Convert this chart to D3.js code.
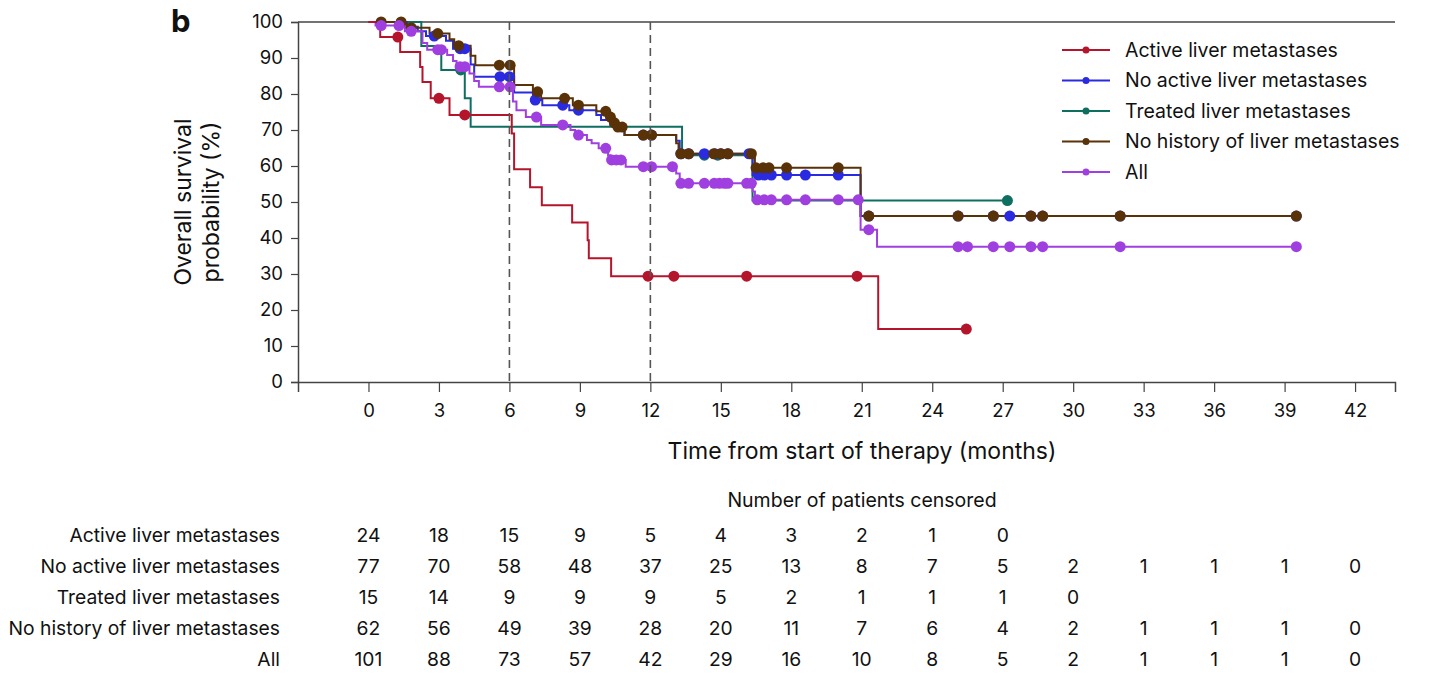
<!DOCTYPE html>
<html><head><meta charset="utf-8">
<script src="https://cdn.jsdelivr.net/npm/d3@7"></script>
<style>
html,body{margin:0;padding:0;background:#fff;}
text{font-family:Inter,"Noto Sans",sans-serif;fill:#111;}
</style></head>
<body><svg id="c" width="1431" height="678"></svg>
<script>
// ---------- data ----------
const seriesNames = ["Active liver metastases","No active liver metastases","Treated liver metastases","No history of liver metastases","All"];
const seriesColors = ["#b5152b","#2a2ae0","#0e6e5f","#5a3208","#a03fe0"];
// steps: [time (months), survival (%) after the event]
const activeSteps = [[0.5,95.8],[1.35,91.7],[2.2,87.5],[2.3,83.3],[2.65,78.8],[3.45,74.2],[6.1,69.0],[6.2,59.1],[6.88,54.1],[7.38,49.1],[8.67,44.3],[9.33,39.4],[9.38,34.4],[10.33,29.4],[21.7,14.7]];
const activeCensor = [1.25,3.0,4.1,11.9,13.0,16.1,20.8,25.45];
const activeEnd = 25.45;

const noActiveSteps = [[1.65,98.7],[2.1,97.4],[2.45,96.1],[3.3,94.8],[3.6,92.6],[4.35,88.2],[4.5,84.8],[6.2,80.4],[7.0,78.3],[7.4,76.9],[8.55,75.5],[9.7,74.2],[9.9,72.8],[10.3,71.4],[10.6,70.0],[10.9,68.6],[13.1,67.0],[13.25,63.4],[16.35,57.5],[20.95,46.1]];
const noActiveCensor = [2.8,3.9,4.1,5.6,6.0,7.1,8.27,8.94,11.7,12.05,13.3,13.63,14.3,14.75,15.0,15.3,16.2,16.6,16.85,17.15,17.8,18.6,20.0,21.3,25.1,26.6,27.3,28.2,28.7,32.0,39.5];
const noActiveEnd = 39.5;

const treatedSteps = [[2.25,93.3],[3.1,86.7],[4.1,78.8],[4.35,70.9],[13.35,63.0],[16.35,50.4]];
const treatedCensor = [3.93,14.3,14.87,27.2];
const treatedEnd = 27.2;

const noHistorySteps = [[1.6,98.4],[2.6,96.8],[3.45,95.2],[3.65,93.4],[4.35,90.6],[4.55,88.0],[6.2,82.5],[7.0,80.6],[7.35,78.8],[8.7,76.9],[9.7,75.2],[10.25,73.6],[10.4,72.0],[10.55,70.8],[10.9,68.6],[13.1,66.3],[13.2,63.4],[16.45,59.5],[20.95,46.1]];
const noHistoryCensor = [0.54,1.39,1.82,2.95,3.84,5.57,6.03,7.2,8.35,8.94,10.1,10.3,10.47,10.62,10.8,11.7,12.05,13.3,13.63,14.7,15.0,15.3,16.3,16.5,16.8,17.05,17.8,20.0,21.3,25.1,26.6,28.2,28.7,32.0,39.5];
const noHistoryEnd = 39.5;

const allSteps = [[0.3,99.0],[1.55,97.4],[2.3,94.2],[2.5,92.3],[3.35,90.8],[3.6,89.2],[3.75,87.6],[4.3,85.7],[4.5,83.6],[4.7,82.0],[6.15,77.9],[6.3,75.5],[6.7,73.6],[7.35,71.4],[8.6,70.0],[8.8,68.6],[9.3,67.2],[9.5,66.3],[9.8,64.9],[10.2,63.0],[10.3,61.7],[10.95,59.8],[13.1,57.9],[13.25,55.2],[16.35,52.9],[16.45,50.6],[20.95,42.3],[21.65,37.6]];
const allCensor = [0.54,1.3,1.82,2.95,3.1,3.9,4.1,5.57,6.03,7.15,8.27,8.94,10.1,10.35,10.55,10.75,11.7,12.05,12.94,13.3,13.63,14.3,14.72,14.94,15.15,15.3,16.1,16.3,16.55,16.85,17.15,17.8,18.6,20.0,20.85,21.3,25.1,25.5,26.6,27.3,28.2,28.7,32.0,39.5];
const allEnd = 39.5;

const xTicks = [0,3,6,9,12,15,18,21,24,27,30,33,36,39,42];
const yTicks = [0,10,20,30,40,50,60,70,80,90,100];
const refLines = [6,12];

const tableRows = ["Active liver metastases","No active liver metastases","Treated liver metastases","No history of liver metastases","All"];
const atRiskActive = [24,18,15,9,5,4,3,2,1,0];
const atRiskNoActive = [77,70,58,48,37,25,13,8,7,5,2,1,1,1,0];
const atRiskTreated = [15,14,9,9,9,5,2,1,1,1,0];
const atRiskNoHistory = [62,56,49,39,28,20,11,7,6,4,2,1,1,1,0];
const atRiskAll = [101,88,73,57,42,29,16,10,8,5,2,1,1,1,0];

// ---------- chart ----------
const svg = d3.select("#c");
const L = 298, R = 1395, T = 22, B = 382;
const x = d3.scaleLinear().domain([-3, 43.7]).range([L, R]);
const y = d3.scaleLinear().domain([0, 100]).range([B, T]);

const series = [
  {steps: activeSteps, cens: activeCensor, end: activeEnd},
  {steps: noActiveSteps, cens: noActiveCensor, end: noActiveEnd},
  {steps: treatedSteps, cens: treatedCensor, end: treatedEnd},
  {steps: noHistorySteps, cens: noHistoryCensor, end: noHistoryEnd},
  {steps: allSteps, cens: allCensor, end: allEnd}
].map((s,i)=>({...s, name: seriesNames[i], color: seriesColors[i]}));

function survAt(steps, t){
  let v = 100;
  for (const [st, sv] of steps){ if (st <= t) v = sv; else break; }
  return v;
}

// axes
const yAxis = d3.axisLeft(y).tickValues(yTicks).tickSize(7).tickPadding(8);
const gy = svg.append("g").attr("transform",`translate(${L},0)`).call(yAxis);
gy.select(".domain").attr("stroke","#444").attr("stroke-width",1.5);
gy.selectAll(".tick line").attr("stroke","#444").attr("stroke-width",1.2);
gy.selectAll(".tick text").attr("font-size",18.5).style("fill","#111");

const xAxis = d3.axisBottom(x).tickValues(xTicks).tickSize(10).tickPadding(12);
const gx = svg.append("g").attr("transform",`translate(0,${B})`).call(xAxis);
gx.select(".domain").attr("stroke","#444").attr("stroke-width",1.5);
gx.selectAll(".tick line").attr("stroke","#444").attr("stroke-width",1.2);
gx.selectAll(".tick text").attr("font-size",18.5).style("fill","#111");

// top frame line
svg.append("line").attr("x1",L).attr("x2",R).attr("y1",T).attr("y2",T).attr("stroke","#444").attr("stroke-width",1.5);

// curves
const line = d3.line().x(d=>x(d[0])).y(d=>y(d[1])).curve(d3.curveStepAfter);
const order = [2,1,3,4,0];
order.forEach(i=>{
  const s = series[i];
  const pts = [[0,100], ...s.steps, [s.end, s.steps[s.steps.length-1][1]]];
  svg.append("path").attr("d", line(pts)).attr("fill","none").attr("stroke", s.color).attr("stroke-width",2);
});
order.forEach(i=>{
  const s = series[i];
  svg.append("g").selectAll("circle").data(s.cens).join("circle")
    .attr("cx", d=>x(d)).attr("cy", d=>y(survAt(s.steps,d))).attr("r",5.5).attr("fill", s.color);
});

// reference dashed lines
svg.selectAll(".ref").data(refLines).join("line").attr("class","ref")
  .attr("x1",d=>x(d)).attr("x2",d=>x(d)).attr("y1",T).attr("y2",B)
  .attr("stroke","#555").attr("stroke-width",1.6).attr("stroke-dasharray","8,5");

// axis titles
svg.append("text").attr("x", 862).attr("y", 459).attr("text-anchor","middle").attr("font-size",23).text("Time from start of therapy (months)");
const yt = svg.append("text").attr("transform","translate(191,202) rotate(-90)").attr("text-anchor","middle").attr("font-size",23);
yt.append("tspan").attr("x",0).attr("dy",0).text("Overall survival");
yt.append("tspan").attr("x",0).attr("dy",28).text("probability (%)");

svg.append("text").attr("x",171).attr("y",32).attr("font-size",31).attr("font-weight","bold").text("b");

// legend
const lg = svg.append("g");
series.forEach((s,i)=>{
  const yy = 50 + i*30.5;
  lg.append("line").attr("x1",1062).attr("x2",1110).attr("y1",yy).attr("y2",yy).attr("stroke",s.color).attr("stroke-width",2);
  lg.append("circle").attr("cx",1086).attr("cy",yy).attr("r",3.5).attr("fill",s.color);
  lg.append("text").attr("x",1125).attr("y",yy).attr("dy","0.35em").attr("font-size",19.5).text(s.name);
});

// number at risk table
svg.append("text").attr("x",862).attr("y",500).attr("dy","0.35em").attr("text-anchor","middle").attr("font-size",19.5).text("Number of patients censored");
const tableData = [atRiskActive, atRiskNoActive, atRiskTreated, atRiskNoHistory, atRiskAll];
tableRows.forEach((name,i)=>{
  const yy = 535 + i*31;
  svg.append("text").attr("x",280).attr("y",yy).attr("dy","0.35em").attr("text-anchor","end").attr("font-size",19.3).text(name);
  svg.append("g").selectAll("text").data(tableData[i]).join("text")
    .attr("x",(d,j)=>x(xTicks[j])).attr("y",yy).attr("dy","0.35em").attr("text-anchor","middle").attr("font-size",19.3).text(d=>d);
});
</script></body></html>
